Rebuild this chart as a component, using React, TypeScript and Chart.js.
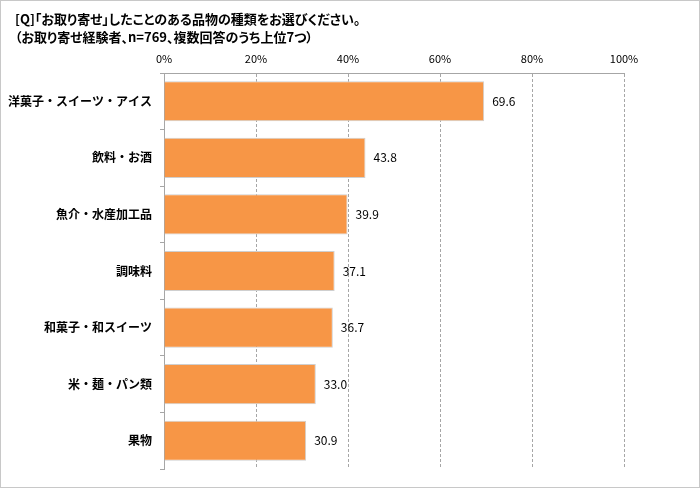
import React, { useEffect, useRef } from "react";
import { Chart, registerables } from "chart.js";

Chart.register(...registerables);

const CATEGORIES = [
  "洋菓子・スイーツ・アイス",
  "飲料・お酒",
  "魚介・水産加工品",
  "調味料",
  "和菓子・和スイーツ",
  "米・麺・パン類",
  "果物",
];
const VALUES = [69.6, 43.8, 39.9, 37.1, 36.7, 33.0, 30.9];
const X_TICKS = [0, 20, 40, 60, 80, 100];

const TITLE = "[Q]「お取り寄せ」したことのある品物の種類をお選びください。";
const SUBTITLE = "（お取り寄せ経験者、n=769、複数回答のうち上位7つ）";

const FONT = '"Noto Sans CJK JP", "Noto Sans", sans-serif';
const BAR_COLOR = "#F79646";

// draws the value to the right of each bar
const valueLabels = {
  id: "valueLabels",
  afterDatasetsDraw(chart: Chart) {
    const { ctx } = chart;
    const meta = chart.getDatasetMeta(0);
    ctx.save();
    ctx.font = `12px ${FONT}`;
    ctx.fillStyle = "#000";
    ctx.textAlign = "left";
    ctx.textBaseline = "middle";
    meta.data.forEach((bar: any, i: number) => {
      ctx.fillText(VALUES[i].toFixed(1), bar.x + 8, bar.y);
    });
    ctx.restore();
  },
};

export default function App() {
  const canvasRef = useRef<HTMLCanvasElement>(null);
  const chartRef = useRef<Chart | null>(null);

  useEffect(() => {
    if (!canvasRef.current) return;
    chartRef.current?.destroy();

    chartRef.current = new Chart(canvasRef.current, {
      type: "bar",
      data: {
        labels: CATEGORIES,
        datasets: [
          {
            data: VALUES,
            backgroundColor: BAR_COLOR,
            borderColor: "#cfcfcf",
            borderWidth: 1,
            barPercentage: 0.71,
            categoryPercentage: 1,
          },
        ],
      },
      options: {
        indexAxis: "y",
        responsive: false,
        animation: false,
        layout: { padding: { top: 0, right: 76, bottom: 19, left: 0 } },
        plugins: {
          legend: { display: false },
          tooltip: { enabled: false },
          title: { display: false },
        },
        scales: {
          x: {
            position: "top",
            min: 0,
            max: 100,
            afterBuildTicks: (scale: any) => {
              scale.ticks = X_TICKS.map((v) => ({ value: v }));
            },
            afterFit: (scale: any) => {
              scale.height = 73;
            },
            ticks: {
              callback: (v: any) => `${v}%`,
              color: "#000",
              font: { family: FONT, size: 11 },
              padding: 8,
            },
            grid: {
              color: "#a6a6a6",
              drawTicks: false,
            },
            border: { display: true, color: "#a6a6a6", dash: [3, 2] },
          },
          y: {
            afterFit: (scale: any) => {
              scale.width = 164;
            },
            ticks: {
              color: "#000",
              font: { family: FONT, size: 12, weight: "bold" },
              padding: 8,
            },
            grid: {
              drawOnChartArea: false,
              drawTicks: true,
              tickLength: 4,
              color: "#a6a6a6",
            },
            border: { display: true, color: "#a6a6a6" },
          },
        },
      },
      plugins: [valueLabels],
    });

    return () => {
      chartRef.current?.destroy();
      chartRef.current = null;
    };
  }, []);

  return (
    <div style={{ position: "relative", width: 700, height: 488, background: "#fff" }}>
      <style>{`body{margin:0}`}</style>
      <canvas ref={canvasRef} width={700} height={488} style={{ position: "absolute", left: 0, top: 0 }} />
      <div
        style={{
          position: "absolute",
          left: 15,
          top: 10,
          fontFamily: FONT,
          fontSize: 13,
          fontWeight: "bold",
          fontFeatureSettings: '"palt"',
          lineHeight: "18px",
          color: "#000",
          whiteSpace: "nowrap",
        }}
      >
        <div>{TITLE}</div>
        <div>{SUBTITLE}</div>
      </div>
      <div
        style={{
          position: "absolute",
          inset: 0,
          border: "1px solid #c8c8c8",
          boxSizing: "border-box",
          pointerEvents: "none",
        }}
      />
    </div>
  );
}
